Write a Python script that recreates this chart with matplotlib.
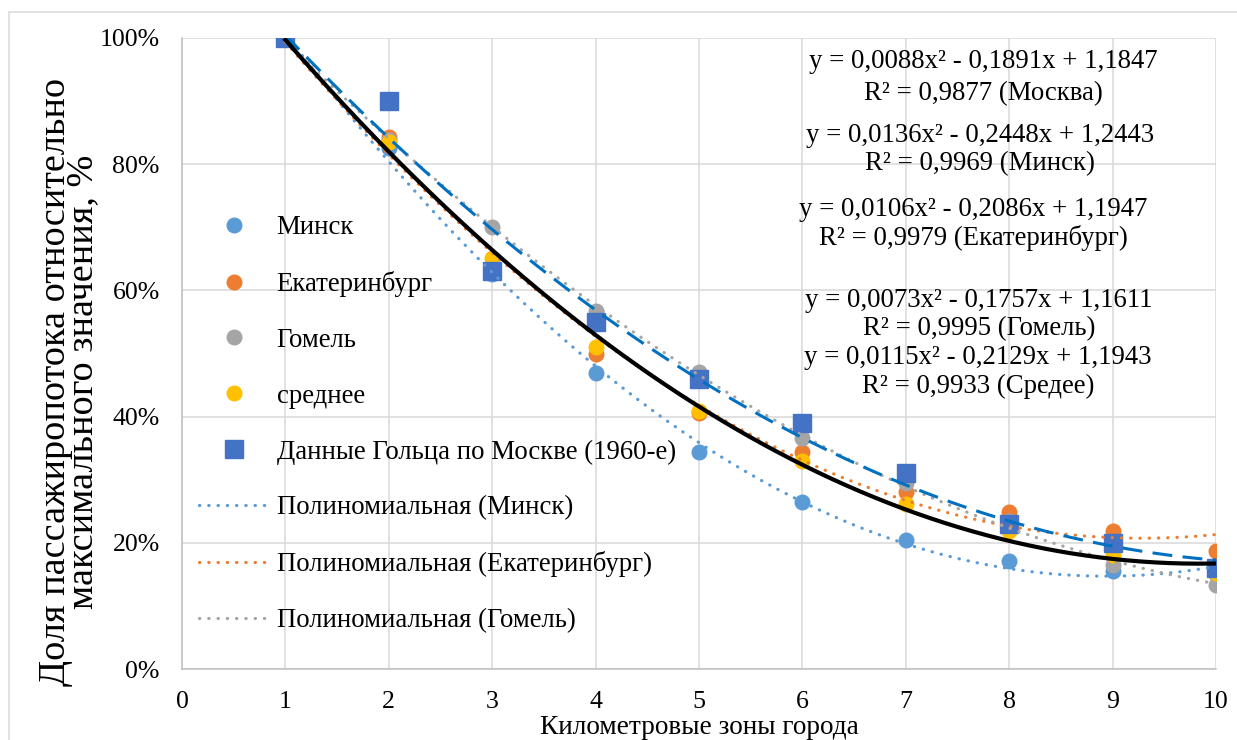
import matplotlib
matplotlib.use("Agg")
import matplotlib.pyplot as plt
import matplotlib.ticker as mticker
from matplotlib.lines import Line2D
from matplotlib.patches import Rectangle
import numpy as np

plt.rcParams["font.family"] = ["Liberation Serif", "DejaVu Serif"]

# ── data (share of max passenger flow, %) ──────────────────────────────────
zones = [1, 2, 3, 4, 5, 6, 7, 8, 9, 10]
minsk = [100, 82.5, 62.6, 46.9, 34.4, 26.5, 20.5, 17.1, 15.5, 15.0]
ekb = [100, 84.3, 63.0, 50.0, 40.6, 34.4, 28.1, 24.9, 21.9, 18.7]
gomel = [100, 83.8, 70.0, 56.7, 47.0, 36.6, 29.5, 23.4, 16.5, 13.3]
average = [100, 83.5, 65.2, 51.0, 40.9, 33.0, 26.1, 21.8, 18.0, 15.2]
moscow = [100, 90, 63, 55, 46, 39, 31, 23, 20, 16]

eq_lines = [
    "y = 0,0088x² - 0,1891x + 1,1847", "R² = 0,9877 (Москва)",
    "y = 0,0136x² - 0,2448x + 1,2443", "R² = 0,9969 (Минск)",
    "y = 0,0106x² - 0,2086x + 1,1947", "R² = 0,9979 (Екатеринбург)",
    "y = 0,0073x² - 0,1757x + 1,1611", "R² = 0,9995 (Гомель)",
    "y = 0,0115x² - 0,2129x + 1,1943", "R² = 0,9933 (Средее)",
]

# ── colours ────────────────────────────────────────────────────────────────
C_MINSK = "#5b9bd5"
C_EKB = "#ed7d31"
C_GOMEL = "#a5a5a5"
C_AVG = "#ffc000"
C_MOS = "#4472c4"
C_MOS_TR = "#0070c0"
FS_TICK = 18.6
FS = 19.3

W, H = 1237, 740
fig = plt.figure(figsize=(W / 100, H / 100), dpi=100)
ax = fig.add_axes([182 / W, 1 - 669 / H, (1216 - 182) / W, (669 - 38) / H])

x = np.array(zones, dtype=float)
series = [
    (minsk, C_MINSK, "o", 10.5, "Минск"),
    (ekb, C_EKB, "o", 10.5, "Екатеринбург"),
    (gomel, C_GOMEL, "o", 10.5, "Гомель"),
    (average, C_AVG, "o", 10.5, "среднее"),
    (moscow, C_MOS, "s", 13.5, "Данные Гольца по Москве (1960-е)"),
]
handles = []
for vals, col, mk, ms, lab in series:
    ax.plot(x, np.array(vals) / 100, ls="none", marker=mk, ms=ms, color=col,
            mec=col, zorder=3)
    handles.append(Line2D([], [], ls="none", marker=mk, ms=ms, color=col, label=lab))

# polynomial (2nd order) trend lines, fitted like Excel does
xs = np.linspace(1, 10, 200)
dot = (0, (0.1, 2.8))
trends = [
    (minsk, C_MINSK, dot, 2.3, "Полиномиальная (Минск)"),
    (ekb, C_EKB, dot, 2.3, "Полиномиальная (Екатеринбург)"),
    (gomel, C_GOMEL, dot, 2.3, "Полиномиальная (Гомель)"),
]
for vals, col, ls, lw, lab in trends:
    c = np.polyfit(x, np.array(vals) / 100, 2)
    ax.plot(xs, np.polyval(c, xs), color=col, ls=ls, lw=lw,
            dash_capstyle="round", zorder=4)
    handles.append(Line2D([], [], color=col, ls=ls, lw=lw,
                          dash_capstyle="round", label=lab))

c_mos = np.polyfit(x, np.array(moscow) / 100, 2)
ax.plot(xs, np.polyval(c_mos, xs), color=C_MOS_TR, lw=2.2,
        ls=(0, (6.5, 3.4)), zorder=5)
c_avg = np.polyfit(x, np.array(average) / 100, 2)
ax.plot(xs, np.polyval(c_avg, xs), color="black", lw=3.0, zorder=6)

# ── axes styling ───────────────────────────────────────────────────────────
ax.set_xlim(0, 10)
ax.set_ylim(0, 1)
ax.set_xticks(range(0, 11))
ax.set_yticks(np.arange(0, 1.01, 0.2))
ax.yaxis.set_major_formatter(mticker.FuncFormatter(lambda v, _: f"{v * 100:.0f}%"))
ax.grid(True, color="#d9d9d9", lw=1.1)
ax.set_axisbelow(True)
for s in ["top", "right"]:
    ax.spines[s].set_visible(False)
for s in ["left", "bottom"]:
    ax.spines[s].set_color("#bfbfbf")
    ax.spines[s].set_linewidth(1.1)
ax.tick_params(length=0, labelsize=FS_TICK, pad=16, colors="black")

ax.legend(handles=handles, loc="center left", bbox_to_anchor=(0.0164, 0.388),
          frameon=False, fontsize=FS, handlelength=2.65, handletextpad=0.25,
          labelspacing=1.15, borderpad=0, borderaxespad=0, numpoints=1)

# equation labels (x centre in px, y centre in px)
eq_pos = [(983, 62), (983, 94), (980, 135), (980, 164), (973, 209), (973, 238),
          (979, 300), (979, 329), (978, 357), (978, 386)]
for txt, (px, py) in zip(eq_lines, eq_pos):
    fig.text(px / W, 1 - py / H, txt, ha="center", va="center", fontsize=FS)

fig.text(69 / W, 1 - 382 / H,
         "Доля пассажиропотока относительно\nмаксимального значения, %",
         rotation=90, ha="center", va="center", fontsize=27.5, linespacing=0.72)
fig.text(699 / W, 1 - 728 / H, "Километровые зоны города",
         ha="center", va="center", fontsize=19.6)

# chart-area border (cropped on right/bottom)
fig.patches.append(Rectangle((9 / W, -0.1), 1.2, 1 - 12 / H + 0.1,
                             transform=fig.transFigure, fill=False,
                             ec="#d9d9d9", lw=1.1))

fig.savefig("out.png", dpi=100)
